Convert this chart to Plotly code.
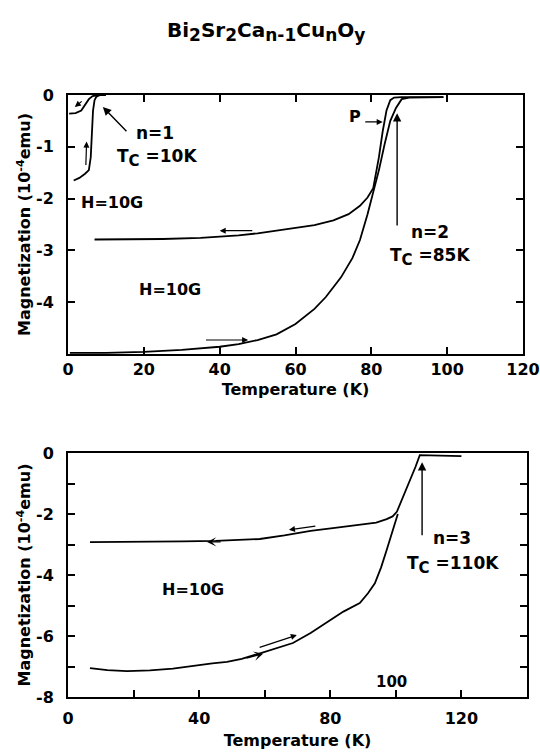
import plotly.graph_objects as go

# ---------------- data ----------------
# top panel, n=2, field-cooled branch (upper)
t2_fc = [7, 15, 25, 35, 45, 50, 55, 60, 65, 70, 74, 77, 79, 80.5, 82, 83, 84, 85, 86, 88, 92, 96, 99]
m2_fc = [-2.79, -2.79, -2.78, -2.76, -2.71, -2.67, -2.62, -2.57, -2.51, -2.42, -2.30, -2.14, -1.98, -1.80,
         -1.20, -0.70, -0.30, -0.10, -0.05, -0.04, -0.04, -0.04, -0.04]
# top panel, n=2, zero-field-cooled branch (lower)
t2_zfc = [0.5, 10, 20, 30, 40, 45, 50, 55, 60, 65, 68, 72, 75, 77, 79, 80.5, 82, 83.5, 85, 86.5, 88, 90, 95, 99]
m2_zfc = [-4.98, -4.98, -4.96, -4.92, -4.86, -4.81, -4.73, -4.62, -4.42, -4.13, -3.90, -3.52, -3.15, -2.80,
          -2.30, -1.88, -1.45, -0.95, -0.50, -0.25, -0.08, -0.05, -0.04, -0.04]
# top panel, n=1 branches
t1_a = [0.3, 2, 3.5, 4.5, 5.5, 6.5, 8]
m1_a = [-0.36, -0.35, -0.30, -0.20, -0.08, -0.02, 0.0]
t1_b = [1.5, 3, 4.5, 5.5, 6.0, 6.3, 6.6, 7.0, 7.5, 8.5, 10]
m1_b = [-1.65, -1.60, -1.52, -1.45, -1.20, -0.70, -0.30, -0.10, -0.03, 0.0, 0.0]

# bottom panel, n=3, field-cooled branch
t3_fc = [6.7, 15, 25, 35, 45, 52, 58.5, 66, 74, 82, 89, 94, 97.2, 99, 100.3, 102, 104, 106, 107.3, 110, 115, 120]
m3_fc = [-2.92, -2.92, -2.91, -2.90, -2.88, -2.85, -2.82, -2.70, -2.55, -2.45, -2.36, -2.28, -2.17, -2.08,
         -1.93, -1.50, -1.00, -0.45, -0.07, -0.08, -0.10, -0.10]
# bottom panel, n=3, zero-field-cooled branch
t3_zfc = [6.7, 12, 18, 25, 32, 38, 44, 48.5, 53, 57.6, 63, 68.6, 74, 79, 84, 89, 91.5, 93.6, 95.5, 97.2,
          98.8, 100.6]
m3_zfc = [-7.05, -7.12, -7.15, -7.13, -7.07, -6.98, -6.90, -6.85, -6.75, -6.60, -6.42, -6.23, -5.90, -5.54,
          -5.20, -4.92, -4.60, -4.27, -3.75, -3.18, -2.65, -2.00]

# tick labels
top_xticks = [0, 20, 40, 60, 80, 100, 120]
top_yticks = [0, -1, -2, -3, -4, -5]
top_ylabels = ["0", "-1", "-2", "-3", "-4", ""]
bot_xticks = [0, 20, 40, 60, 80, 100, 120, 140]
bot_xlabels = ["0", "", "40", "", "80", "", "120", ""]
bot_yticks = [0, -1, -2, -3, -4, -5, -6, -7, -8]
bot_ylabels = ["0", "", "-2", "", "-4", "", "-6", "", "-8"]

# ---------------- figure ----------------
W, H = 540, 753
FONT = "DejaVu Sans, Liberation Sans, Arial, sans-serif"
line = dict(color="black", width=1.8)

fig = go.Figure()
for t, m in [(t2_fc, m2_fc), (t2_zfc, m2_zfc), (t1_a, m1_a), (t1_b, m1_b)]:
    fig.add_trace(go.Scatter(x=t, y=m, mode="lines", line=line, xaxis="x", yaxis="y",
                             showlegend=False, hoverinfo="skip"))
for t, m in [(t3_fc, m3_fc), (t3_zfc, m3_zfc)]:
    fig.add_trace(go.Scatter(x=t, y=m, mode="lines", line=line, xaxis="x2", yaxis="y2",
                             showlegend=False, hoverinfo="skip"))

tickfont = dict(family=FONT, size=16, color="black", weight="bold")
titlefont = dict(family=FONT, size=16, color="black", weight="bold")
common = dict(showgrid=False, zeroline=False, showline=True, linecolor="black", linewidth=2,
              ticks="inside", ticklen=7, tickwidth=1.5, tickcolor="black", tickfont=tickfont,
              automargin=False)

ytitle = "Magnetization (10<sup>-4</sup>emu)"

fig.update_layout(
    template="none",
    width=W, height=H, autosize=False,
    margin=dict(l=0, r=0, t=0, b=0),
    paper_bgcolor="white", plot_bgcolor="white",
    xaxis=dict(domain=[68 / W, 523 / W], range=[0, 120], tickvals=top_xticks,
               mirror="ticks", anchor="y", ticklabelstandoff=0,
               title=dict(text="Temperature (K)", font=titlefont, standoff=6), **common),
    yaxis=dict(domain=[1 - 354 / H, 1 - 95 / H], range=[-5, 0], tickvals=top_yticks, ticktext=top_ylabels,
               mirror="ticks", anchor="x", ticklabelstandoff=9,
               title=dict(text=ytitle, font=titlefont, standoff=1), **common),
    xaxis2=dict(domain=[68 / W, 527 / W], range=[0, 140], tickvals=bot_xticks, ticktext=bot_xlabels,
                mirror=True, anchor="y2", ticklabelstandoff=6,
                title=dict(text="Temperature (K)", font=titlefont, standoff=8), **common),
    yaxis2=dict(domain=[1 - 697 / H, 1 - 453 / H], range=[-8, 0], tickvals=bot_yticks, ticktext=bot_ylabels,
                mirror="ticks", anchor="x2", ticklabelstandoff=9,
                title=dict(text=ytitle, font=titlefont, standoff=1), **common),
)

ann = []
# main title
sub = lambda s: '<sub><span style="font-size:17px">' + s + '</span></sub>'
ann.append(dict(text="Bi" + sub("2") + "Sr" + sub("2") + "Ca" + sub("n-1") + "Cu" + sub("n") + "O" + sub("y"),
                xref="paper", yref="paper", x=266 / W, y=1 - 32 / H, showarrow=False,
                font=dict(family=FONT, size=20, color="black", weight="bold"),
                xanchor="center", yanchor="middle"))

lab = dict(family=FONT, size=17, color="black", weight="bold")
lab_s = dict(family=FONT, size=16, color="black", weight="bold")


def text(x, y, s, xr="x", yr="y", font=lab, xanchor="center"):
    ann.append(dict(text=s, x=x, y=y, xref=xr, yref=yr, showarrow=False, font=font,
                    xanchor=xanchor, yanchor="middle"))


def arrow(x0, y0, x1, y1, xr="x", yr="y", head=2, size=1.2, width=1.4):
    ann.append(dict(text="", x=x1, y=y1, ax=x0, ay=y0, xref=xr, yref=yr, axref=xr, ayref=yr,
                    showarrow=True, arrowhead=head, arrowsize=size, arrowwidth=width,
                    arrowcolor="black"))


tc = 'T<sub><span style="font-size:15px">C</span></sub> ='
# top panel labels
text(23, -0.73, "n=1")
text(23.5, -1.22, tc + "10K")
arrow(15.8, -0.73, 9.2, -0.23)
text(2.8, -2.08, "H=10G", font=lab_s, xanchor="left")
text(27, -3.75, "H=10G", font=lab_s)
text(95.5, -2.65, "n=2")
text(95.5, -3.12, tc + "85K")
arrow(86.8, -2.55, 86.8, -0.35)
text(75.6, -0.42, "P", font=lab_s)
arrow(78, -0.52, 83, -0.52, head=2, size=1.0, width=1.2)
arrow(4.7, -1.38, 4.9, -0.9, head=2, size=1.0, width=1.2)
arrow(4.0, -0.10, 1.8, -0.23, head=2, size=1.0, width=1.2)
arrow(49, -2.62, 40, -2.62, head=2, size=1.0, width=1.2)
arrow(36, -4.73, 47.5, -4.73, head=2, size=1.0, width=1.2)

# bottom panel labels
text(117, -2.79, "n=3", xr="x2", yr="y2")
text(117.5, -3.67, tc + "110K", xr="x2", yr="y2")
arrow(108, -2.75, 108, -0.3, xr="x2", yr="y2")
text(38, -4.49, "H=10G", xr="x2", yr="y2", font=lab_s)
text(98.8, -7.5, "100", xr="x2", yr="y2", font=dict(family=FONT, size=15, color="black", weight="bold"))
arrow(75.9, -2.39, 67.4, -2.52, xr="x2", yr="y2", head=2, size=1.0, width=1.2)
arrow(47, -2.91, 42.4, -2.92, xr="x2", yr="y2", head=3, size=1.3, width=1.2)
arrow(58, -6.39, 69.8, -5.97, xr="x2", yr="y2", head=2, size=1.0, width=1.2)
arrow(54, -6.74, 59.5, -6.58, xr="x2", yr="y2", head=3, size=1.3, width=1.2)

fig.update_layout(annotations=ann)
fig.write_html("out.html", config={"displayModeBar": False},
               post_script="document.body.style.margin='0';document.body.style.overflow='hidden';")
